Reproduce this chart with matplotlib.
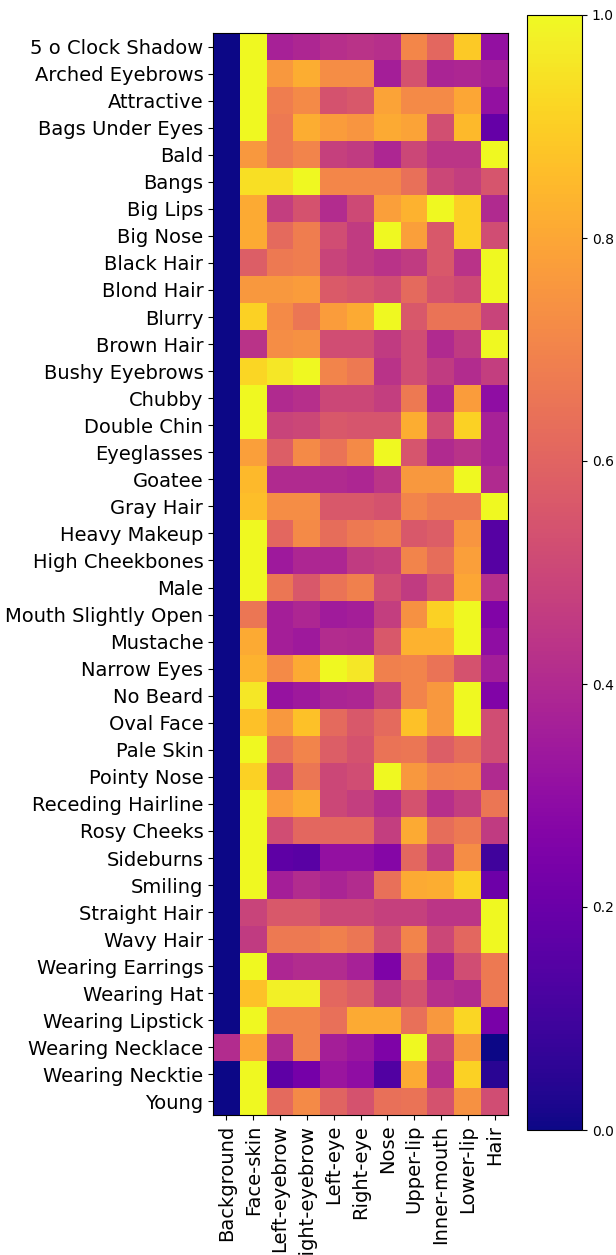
import numpy as np
import matplotlib
matplotlib.use("Agg")
from matplotlib import pyplot as plt

attributes = ["5 o Clock Shadow", "Arched Eyebrows", "Attractive", "Bags Under Eyes",
              "Bald", "Bangs", "Big Lips", "Big Nose", "Black Hair", "Blond Hair",
              "Blurry", "Brown Hair", "Bushy Eyebrows", "Chubby", "Double Chin",
              "Eyeglasses", "Goatee", "Gray Hair", "Heavy Makeup", "High Cheekbones",
              "Male", "Mouth Slightly Open", "Mustache", "Narrow Eyes", "No Beard",
              "Oval Face", "Pale Skin", "Pointy Nose", "Receding Hairline", "Rosy Cheeks",
              "Sideburns", "Smiling", "Straight Hair", "Wavy Hair", "Wearing Earrings",
              "Wearing Hat", "Wearing Lipstick", "Wearing Necklace", "Wearing Necktie", "Young"]

regions = ["Background", "Face-skin", "Left-eyebrow", "Right-eyebrow", "Left-eye",
           "Right-eye", "Nose", "Upper-lip", "Inner-mouth", "Lower-lip", "Hair"]

# rows: attributes, columns: regions
scores = [
    [0.00, 1.00, 0.37, 0.39, 0.42, 0.43, 0.42, 0.71, 0.61, 0.89, 0.31],
    [0.00, 1.00, 0.76, 0.82, 0.73, 0.73, 0.36, 0.54, 0.38, 0.39, 0.36],
    [0.00, 1.00, 0.68, 0.72, 0.54, 0.56, 0.79, 0.72, 0.72, 0.80, 0.31],
    [0.00, 1.00, 0.67, 0.82, 0.77, 0.75, 0.81, 0.79, 0.53, 0.85, 0.19],
    [0.00, 0.76, 0.67, 0.70, 0.48, 0.46, 0.39, 0.50, 0.44, 0.44, 1.00],
    [0.00, 0.94, 0.94, 1.00, 0.71, 0.71, 0.71, 0.64, 0.50, 0.47, 0.55],
    [0.00, 0.81, 0.47, 0.54, 0.41, 0.51, 0.78, 0.83, 1.00, 0.90, 0.40],
    [0.00, 0.81, 0.62, 0.68, 0.52, 0.46, 1.00, 0.78, 0.56, 0.90, 0.52],
    [0.00, 0.58, 0.67, 0.68, 0.49, 0.46, 0.43, 0.46, 0.56, 0.43, 1.00],
    [0.00, 0.76, 0.76, 0.77, 0.57, 0.55, 0.52, 0.62, 0.54, 0.51, 1.00],
    [0.00, 0.91, 0.72, 0.66, 0.77, 0.81, 1.00, 0.56, 0.65, 0.65, 0.49],
    [0.00, 0.43, 0.73, 0.74, 0.52, 0.52, 0.46, 0.52, 0.40, 0.46, 1.00],
    [0.00, 0.92, 0.96, 1.00, 0.70, 0.67, 0.43, 0.52, 0.46, 0.41, 0.47],
    [0.00, 1.00, 0.40, 0.42, 0.50, 0.50, 0.47, 0.67, 0.38, 0.77, 0.30],
    [0.00, 1.00, 0.49, 0.50, 0.56, 0.55, 0.55, 0.82, 0.52, 0.91, 0.37],
    [0.00, 0.78, 0.58, 0.72, 0.65, 0.72, 1.00, 0.55, 0.40, 0.43, 0.37],
    [0.00, 0.85, 0.40, 0.40, 0.40, 0.39, 0.44, 0.76, 0.76, 1.00, 0.40],
    [0.00, 0.86, 0.73, 0.73, 0.56, 0.56, 0.54, 0.70, 0.67, 0.67, 1.00],
    [0.00, 1.00, 0.61, 0.72, 0.63, 0.67, 0.69, 0.56, 0.58, 0.75, 0.15],
    [0.00, 1.00, 0.34, 0.39, 0.39, 0.46, 0.48, 0.70, 0.63, 0.78, 0.15],
    [0.00, 1.00, 0.66, 0.56, 0.65, 0.69, 0.52, 0.46, 0.54, 0.80, 0.42],
    [0.00, 0.66, 0.36, 0.39, 0.35, 0.36, 0.47, 0.74, 0.91, 1.00, 0.26],
    [0.00, 0.81, 0.36, 0.34, 0.41, 0.40, 0.56, 0.83, 0.83, 1.00, 0.30],
    [0.00, 0.83, 0.72, 0.81, 1.00, 0.96, 0.69, 0.70, 0.65, 0.54, 0.36],
    [0.00, 0.96, 0.32, 0.34, 0.38, 0.39, 0.48, 0.70, 0.76, 1.00, 0.26],
    [0.00, 0.87, 0.76, 0.87, 0.62, 0.56, 0.62, 0.87, 0.76, 1.00, 0.52],
    [0.00, 1.00, 0.64, 0.70, 0.58, 0.54, 0.65, 0.66, 0.58, 0.63, 0.52],
    [0.00, 0.91, 0.47, 0.66, 0.50, 0.52, 1.00, 0.76, 0.70, 0.71, 0.40],
    [0.00, 1.00, 0.77, 0.82, 0.50, 0.47, 0.41, 0.54, 0.42, 0.47, 0.66],
    [0.00, 1.00, 0.52, 0.61, 0.61, 0.61, 0.47, 0.81, 0.63, 0.67, 0.46],
    [0.00, 1.00, 0.17, 0.16, 0.31, 0.31, 0.27, 0.61, 0.46, 0.73, 0.10],
    [0.00, 1.00, 0.36, 0.41, 0.38, 0.41, 0.64, 0.81, 0.82, 0.91, 0.21],
    [0.00, 0.49, 0.56, 0.56, 0.50, 0.50, 0.48, 0.48, 0.44, 0.44, 1.00],
    [0.00, 0.46, 0.67, 0.67, 0.69, 0.66, 0.53, 0.70, 0.50, 0.61, 1.00],
    [0.00, 1.00, 0.39, 0.41, 0.41, 0.37, 0.25, 0.61, 0.36, 0.52, 0.67],
    [0.00, 0.87, 0.98, 0.98, 0.61, 0.58, 0.46, 0.54, 0.42, 0.40, 0.67],
    [0.00, 1.00, 0.70, 0.70, 0.64, 0.81, 0.81, 0.64, 0.76, 0.92, 0.24],
    [0.41, 0.80, 0.40, 0.70, 0.36, 0.33, 0.25, 1.00, 0.48, 0.76, 0.00],
    [0.00, 1.00, 0.17, 0.23, 0.33, 0.30, 0.14, 0.81, 0.42, 0.91, 0.05],
    [0.00, 1.00, 0.62, 0.72, 0.60, 0.54, 0.64, 0.65, 0.54, 0.74, 0.52],
]

data = np.array(scores)

fig = plt.figure(figsize=(6.16, 12.55), dpi=100)
ax = fig.add_axes([213 / 616, 140 / 1255, 295 / 616, 1082 / 1255])
cax = fig.add_axes([527 / 616, 125 / 1255, 55 / 616, 1115 / 1255])

im = ax.imshow(data, cmap="plasma", vmin=0, vmax=1, aspect="auto", interpolation="nearest")
ax.set_xticks(np.arange(len(regions)))
ax.set_xticklabels(regions, rotation=90, fontsize=14)
ax.set_yticks(np.arange(len(attributes)))
ax.set_yticklabels(attributes, fontsize=14)

cb = fig.colorbar(im, cax=cax)
cb.set_ticks([0.0, 0.2, 0.4, 0.6, 0.8, 1.0])
cb.ax.tick_params(labelsize=10)

fig.savefig("out.png", dpi=100)
